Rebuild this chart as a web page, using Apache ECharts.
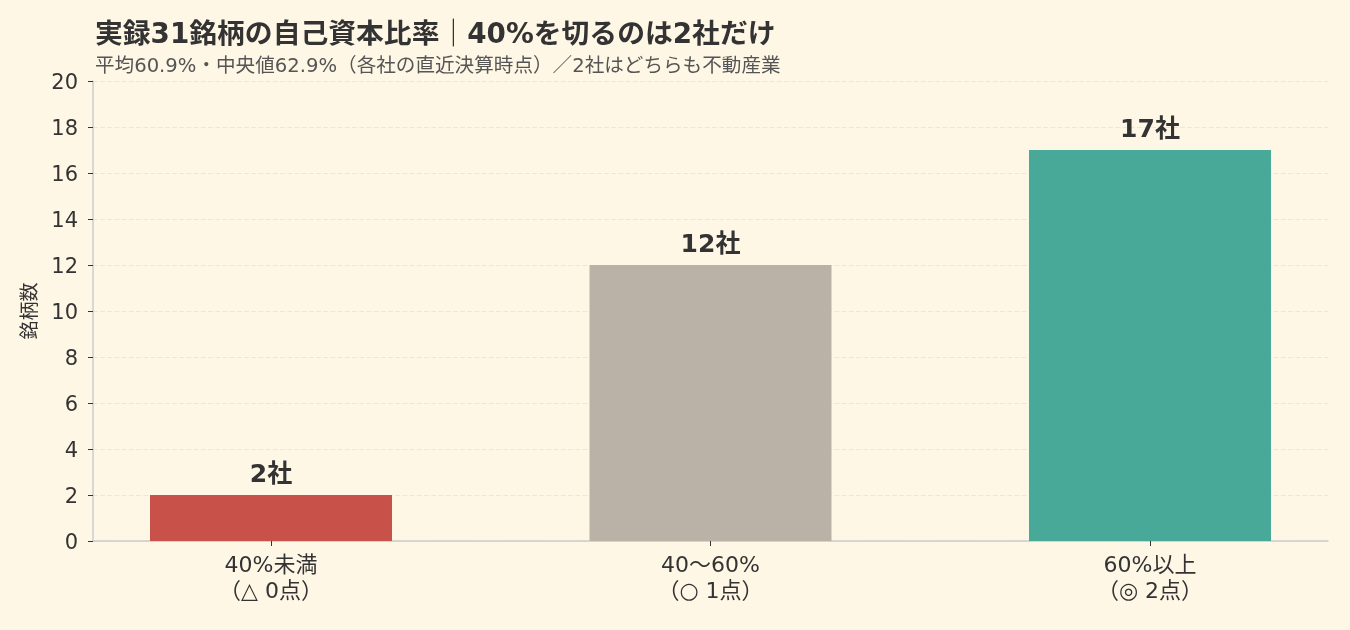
<!DOCTYPE html>
<html><head><meta charset="utf-8">
<script src="https://cdn.jsdelivr.net/npm/echarts@6/dist/echarts.min.js"></script>
<style>html,body{margin:0;padding:0;background:#FFF7E6;}#c{width:1350px;height:630px;}</style>
</head><body><div id="c"></div>
<script>
const categories = ['40%未満\n（△ 0点）', '40〜60%\n（○ 1点）', '60%以上\n（◎ 2点）'];
const counts = [2, 12, 17];
const barColors = ['#C8524A', '#BAB2A6', '#48A999'];
const yTicks = {min: 0, max: 20, interval: 2};
const titleText = '実録31銘柄の自己資本比率｜40%を切るのは2社だけ';
const subtitleText = '平均60.9%・中央値62.9%（各社の直近決算時点）／2社はどちらも不動産業';
const FONT = '"DejaVu Sans", "Noto Sans CJK JP", sans-serif';
const chart = echarts.init(document.getElementById('c'));
chart.setOption({
  backgroundColor: '#FFF7E6',
  textStyle: {fontFamily: FONT},
  title: [{
    text: titleText, left: 90, top: 17,
    textStyle: {fontFamily: FONT, fontSize: 27.8, fontWeight: 'bold', color: '#333'}
  }, {
    text: subtitleText, left: 90, top: 52,
    textStyle: {fontFamily: FONT, fontSize: 19.6, fontWeight: 'normal', color: '#555'}
  }],
  grid: {left: 93, right: 22, top: 81, bottom: 89},
  xAxis: {
    type: 'value', min: -0.405, max: 2.405,
    axisLine: {show: true, onZero: false, lineStyle: {color: '#ccc', width: 1.5}},
    axisTick: {show: true, customValues: [0, 1, 2], lineStyle: {color: '#333'}, length: 5},
    axisLabel: {customValues: [0, 1, 2], formatter: v => categories[Math.round(v)],
      fontFamily: FONT, fontSize: 22, color: '#333', lineHeight: 26, margin: 12},
    splitLine: {show: false}
  },
  yAxis: {
    type: 'value', min: yTicks.min, max: yTicks.max, interval: yTicks.interval,
    name: '銘柄数', nameLocation: 'middle', nameGap: 49, nameRotate: 90,
    nameTextStyle: {fontFamily: FONT, fontSize: 19, color: '#333'},
    axisLine: {show: true, onZero: false, lineStyle: {color: '#ccc', width: 1.5}},
    axisTick: {show: true, lineStyle: {color: '#333'}, length: 5},
    axisLabel: {margin: 15, formatter: v => '{t|' + v + '}',
      rich: {t: {fontFamily: FONT, fontSize: 21, color: '#333', padding: [6, 0, 0, 0]}}},
    splitLine: {lineStyle: {color: '#EFE7D6', type: 'dashed', width: 1.2}}
  },
  series: [{
    type: 'bar', barWidth: 242,
    data: counts.map((v, i) => ({value: [i, v], itemStyle: {color: barColors[i]}})),
    label: {show: true, position: 'top', distance: 7, formatter: p => p.value[1] + '社',
      fontFamily: FONT, fontSize: 25, fontWeight: 'bold', color: '#333'}
  }]
});
</script></body></html>
